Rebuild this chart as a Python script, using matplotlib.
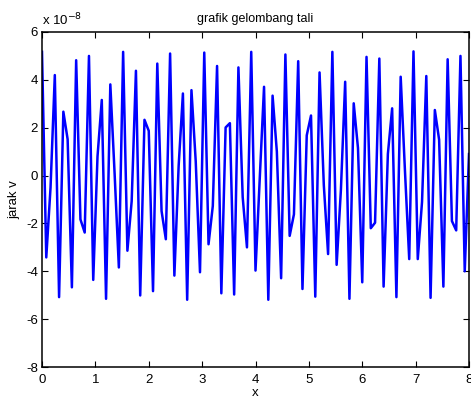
import numpy as np
import matplotlib
matplotlib.use("Agg")
import matplotlib.pyplot as plt
from matplotlib.ticker import FuncFormatter, MultipleLocator

# rope displacement samples (units of 1e-8), x from 0 to 8 in steps of 0.08
x = np.linspace(0, 8, 101)
v_scaled = [
    5.17, -3.42, -0.50, 4.20, -5.08, 2.67, 1.52, -4.67, 4.82, -1.83,
    -2.38, 5.00, -4.36, 0.80, 3.16, -5.15, 3.81, 0.10, -3.84, 5.17,
    -3.14, -1.07, 4.38, -5.01, 2.33, 1.87, -4.83, 4.68, -1.48, -2.66,
    5.10, -4.18, 0.40, 3.43, -5.19, 3.57, 0.60, -4.04, 5.14, -2.87,
    -1.27, 4.58, -4.92, 2.01, 2.19, -4.97, 4.52, -0.90, -3.00, 5.17,
    -3.97, -0.10, 3.71, -5.19, 3.34, 1.00, -4.29, 5.06, -2.52, -1.62,
    4.78, -4.74, 1.68, 2.51, -5.06, 4.31, -0.40, -3.28, 5.17, -3.73,
    -0.60, 3.92, -5.15, 3.02, 1.15, -4.46, 4.96, -2.20, -1.97, 4.89,
    -4.64, 0.90, 2.81, -5.08, 4.13, 0.20, -3.49, 5.19, -3.49, -1.10,
    4.16, -5.11, 2.74, 1.50, -4.64, 4.86, -1.90, -2.29, 5.00, -4.00,
    0.90,
]
scale = 1e-8
v = np.array(v_scaled) * scale

plt.rcParams["font.family"] = ["Liberation Sans", "DejaVu Sans"]

fig = plt.figure(figsize=(4.71, 4.01), dpi=100)
ax = fig.add_axes([42 / 471, 34 / 401, 427 / 471, 335 / 401])

ax.plot(x, v, color=(0, 0, 1), linewidth=1.8)

ax.set_xlim(0, 8)
ax.set_ylim(-8e-8, 6e-8)
ax.xaxis.set_major_locator(MultipleLocator(1))
ax.yaxis.set_major_locator(MultipleLocator(2e-8))
ax.yaxis.set_major_formatter(FuncFormatter(lambda val, pos: f"{val / scale:.0f}"))

ax.tick_params(direction="in", length=4, width=0.8, top=True, right=True,
               labelsize=9.5, colors="black")
ax.tick_params(axis="x", pad=5)
ax.tick_params(axis="y", pad=3)
for s in ax.spines.values():
    s.set_linewidth(1.1)
    s.set_color("black")

ax.set_title("grafik gelombang tali", fontsize=9, pad=7)
ax.set_xlabel("x", fontsize=9.5, labelpad=1)
ax.set_ylabel("jarak v", fontsize=9.5, labelpad=4)
ax.text(0.0, 1.01, r"x 10$^{-8}$", transform=ax.transAxes, fontsize=9.5,
        ha="left", va="bottom")

fig.savefig("out.png", dpi=100)
